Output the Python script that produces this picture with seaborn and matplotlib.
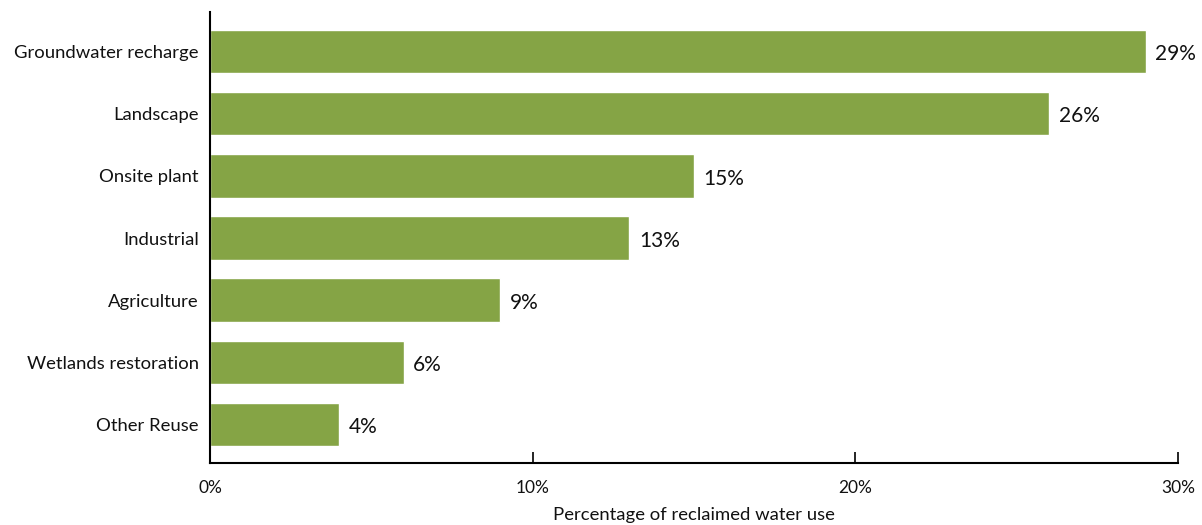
import matplotlib
matplotlib.use("Agg")
import matplotlib.pyplot as plt
import seaborn as sns
import pandas as pd
from matplotlib.ticker import FuncFormatter

categories = ["Groundwater recharge", "Landscape", "Onsite plant", "Industrial",
              "Agriculture", "Wetlands restoration", "Other Reuse"]
values = [29, 26, 15, 13, 9, 6, 4]
x_ticks = [0, 10, 20, 30]

df = pd.DataFrame({"use": categories, "pct": values})

sns.set_theme(style="white")
plt.rcParams["font.family"] = ["Lato", "DejaVu Sans"]

fig = plt.figure(figsize=(12.02, 5.25), dpi=100)
ax = fig.add_axes([0.1747, 0.118, 0.8053, 0.859])

sns.barplot(data=df, x="pct", y="use", orient="h", color="#85A445",
            saturation=1, width=0.70, ax=ax)

for i, v in enumerate(values):
    ax.annotate(f"{v}%", xy=(v, i), xytext=(7, -2), textcoords="offset points",
                ha="left", va="center", fontsize=15, color="#111111")

ax.set_xlim(0, 30)
ax.set_ylim(6.62, -0.635)
ax.set_xticks(x_ticks)
ax.xaxis.set_major_formatter(FuncFormatter(lambda x, _: f"{x:.0f}%"))
ax.tick_params(axis="x", direction="in", length=8, width=1.2, color="black",
               labelsize=12.5, pad=12, bottom=True)
ax.tick_params(axis="y", length=0, labelsize=13.3, pad=8)
for lab in ax.get_xticklabels() + ax.get_yticklabels():
    lab.set_color("#111111")

ax.set_xlabel("Percentage of reclaimed water use", fontsize=13.3, color="#111111",
              labelpad=8)
ax.set_ylabel("")

for side in ["top", "right"]:
    ax.spines[side].set_visible(False)
for side in ["left", "bottom"]:
    ax.spines[side].set_color("black")
    ax.spines[side].set_linewidth(1.5)

fig.savefig("out.png", dpi=100)
